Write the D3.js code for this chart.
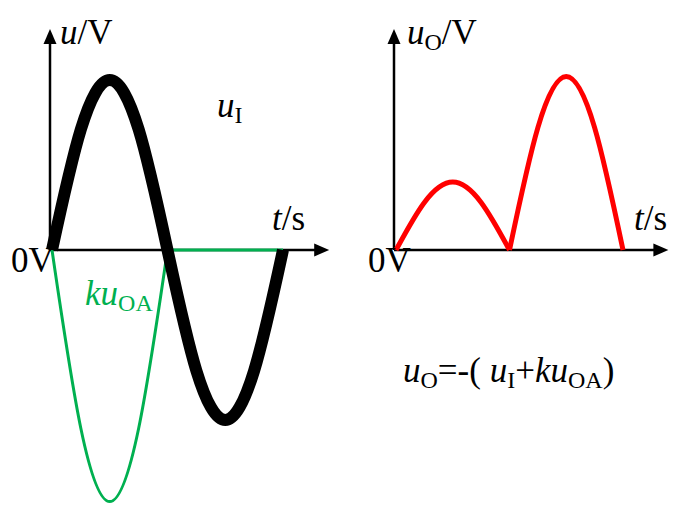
<!DOCTYPE html>
<html>
<head>
<meta charset="utf-8">
<script src="https://cdn.jsdelivr.net/npm/d3@7"></script>
<style>
  html, body { margin: 0; padding: 0; background: #fff; }
</style>
</head>
<body>
<svg id="chart" width="682" height="512"></svg>
<script>
// t as a fraction of one period, values in units of the u_I amplitude
var tSamples = [0, 0.125, 0.25, 0.375, 0.5, 0.625, 0.75, 0.875, 1];
var uI     = [0, 0.71, 1, 0.71, 0, -0.71, -1, -0.71, 0];
var kuOA   = [0, -1.05, -1.48, -1.05, 0, 0, 0, 0, 0];
var uO     = [0, 0.28, 0.4, 0.28, 0, 0.72, 1.02, 0.72, 0];
var kinkAt = 4; // index where k*u_OA and u_O change shape

var svg = d3.select("#chart");

var y = d3.scaleLinear().domain([0, 1]).range([250, 80]);
var xL = d3.scaleLinear().domain([0, 1]).range([52, 283]);
var xR = d3.scaleLinear().domain([0, 1]).range([396, 623]);

function pts(vals, from, to) {
	var out = [];
	for (var i = from; i <= to; i++) out.push([tSamples[i], vals[i]]);
	return out;
}

function drawAxes(x, ox) {
	var g = svg.append("g");
	var x0 = ox, y0 = y(0), xEnd = x(1.2), yEnd = y(1.3);
	g.append("line")
		.attr("x1", x0).attr("y1", y0).attr("x2", x0).attr("y2", yEnd + 12)
		.attr("stroke", "#000").attr("stroke-width", 2.5);
	g.append("line")
		.attr("x1", x0).attr("y1", y0).attr("x2", xEnd - 12).attr("y2", y0)
		.attr("stroke", "#000").attr("stroke-width", 2.5);
	g.append("path")
		.attr("d", "M" + x0 + "," + yEnd + "L" + (x0 - 6.5) + "," + (yEnd + 15) + "L" + (x0 + 6.5) + "," + (yEnd + 15) + "Z")
		.attr("fill", "#000");
	g.append("path")
		.attr("d", "M" + xEnd + "," + y0 + "L" + (xEnd - 15) + "," + (y0 - 6.5) + "L" + (xEnd - 15) + "," + (y0 + 6.5) + "Z")
		.attr("fill", "#000");
}

function curve(x, data, color, width) {
	var line = d3.line()
		.x(function(d) { return x(d[0]); })
		.y(function(d) { return y(d[1]); })
		.curve(d3.curveNatural);
	svg.append("path")
		.attr("d", line(data))
		.attr("fill", "none")
		.attr("stroke", color)
		.attr("stroke-width", width)
		.attr("stroke-linejoin", "round");
}

drawAxes(xL, 50);
drawAxes(xR, 394);

// left panel
curve(xL, pts(kuOA, 0, kinkAt), "#00b050", 3);
svg.append("line")
	.attr("x1", xL(tSamples[kinkAt])).attr("y1", y(0))
	.attr("x2", xL(1)).attr("y2", y(0))
	.attr("stroke", "#00b050").attr("stroke-width", 3);
curve(xL, pts(uI, 0, tSamples.length - 1), "#000", 12);

// right panel
curve(xR, pts(uO, 0, kinkAt), "#ff0000", 5);
curve(xR, pts(uO, kinkAt, tSamples.length - 1), "#ff0000", 5);

// labels
function label(x, yy, parts, color) {
	var t = svg.append("text").attr("x", x).attr("y", yy)
		.attr("font-family", "'Liberation Serif', 'Times New Roman', 'DejaVu Serif', serif")
		.attr("fill", color || "#000").attr("font-size", 35);
	var shift = 0;
	parts.forEach(function(p) {
		var s = t.append("tspan").text(p.s);
		if (p.i) s.attr("font-style", "italic");
		var want = p.sub ? 6 : 0;
		if (want !== shift) { s.attr("dy", want - shift); shift = want; }
		if (p.sub) s.attr("font-size", 24);
	});
	return t;
}

label(60, 44, [{s: "u", i: 1}, {s: "/V"}]);
label(217, 117, [{s: "u", i: 1}, {s: "I", sub: 1}]);
label(272, 230, [{s: "t", i: 1}, {s: "/s"}]);
label(11, 272, [{s: "0V"}]);
label(85, 305, [{s: "ku", i: 1}, {s: "OA", sub: 1}], "#00b050");

label(407, 44, [{s: "u", i: 1}, {s: "O", sub: 1}, {s: "/V"}]);
label(634, 230, [{s: "t", i: 1}, {s: "/s"}]);
label(368, 272, [{s: "0V"}]);
label(403, 382, [{s: "u", i: 1}, {s: "O", sub: 1}, {s: "=-( "}, {s: "u", i: 1}, {s: "I", sub: 1},
	{s: "+"}, {s: "ku", i: 1}, {s: "OA", sub: 1}, {s: ")"}]);
</script>
</body>
</html>
